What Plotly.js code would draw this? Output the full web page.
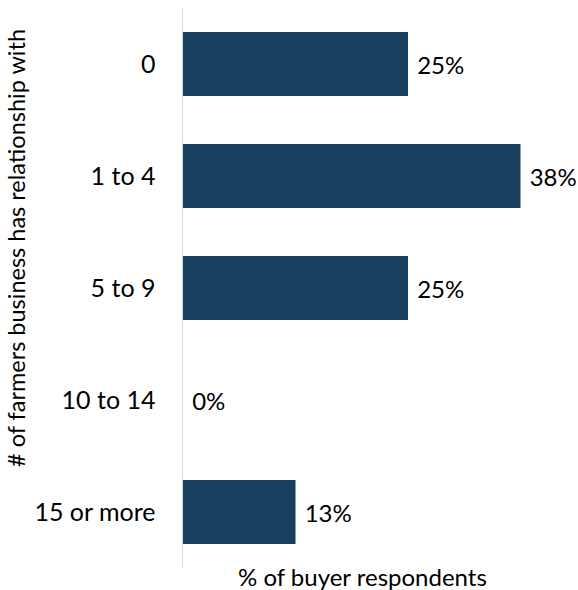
<!DOCTYPE html>
<html>
<head>
<meta charset="utf-8">
<script src="https://cdn.plot.ly/plotly-3.0.1.min.js"></script>
<style>html,body{margin:0;padding:0;background:#fff;}#chart{width:578px;height:590px;}</style>
</head>
<body>
<div id="chart"></div>
<script>
const categories = ["0", "1 to 4", "5 to 9", "10 to 14", "15 or more"];
const values = [25, 37.5, 25, 0, 12.5];
const valueLabels = ["25%", "38%", "25%", "0%", "13%"];
const yTitle = "# of farmers business has relationship with";
const xTitle = "% of buyer respondents";

const FONT = "Lato, 'Open Sans', sans-serif";

const trace = {
  type: "bar",
  orientation: "h",
  y: categories,
  x: values,
  text: valueLabels.map(s => " " + s),
  textposition: "outside",
  textfont: {family: FONT, size: 24, color: "#000"},
  cliponaxis: false,
  marker: {color: "#17405E"},
  hoverinfo: "none"
};

const layout = {
  width: 578, height: 590,
  margin: {l: 183, r: 17, t: 8, b: 22},
  paper_bgcolor: "#fff", plot_bgcolor: "#fff",
  showlegend: false,
  bargap: 0.43,
  font: {family: FONT, color: "#000"},
  xaxis: {
    range: [0, 42], visible: false, fixedrange: true
  },
  yaxis: {
    categoryorder: "array", categoryarray: categories,
    autorange: "reversed",
    showline: true, linecolor: "#D9D9D9", linewidth: 1.5,
    showgrid: false, zeroline: false, ticks: "",
    tickfont: {family: FONT, size: 25, color: "#000"},
    ticklabelstandoff: 21
  },
  annotations: [
    {text: yTitle, xref: "paper", yref: "paper", x: -183/378, y: (568-248)/560,
     xanchor: "left", yanchor: "middle", textangle: -90, showarrow: false,
     font: {family: FONT, size: 23.5, color: "#000"}},
    {text: xTitle, xref: "paper", yref: "paper", x: (362-183)/378, y: (568-576)/560,
     xanchor: "center", yanchor: "middle", showarrow: false,
     font: {family: FONT, size: 24, color: "#000"}}
  ]
};

Plotly.newPlot("chart", [trace], layout, {staticPlot: true, displayModeBar: false});
</script>
</body>
</html>
